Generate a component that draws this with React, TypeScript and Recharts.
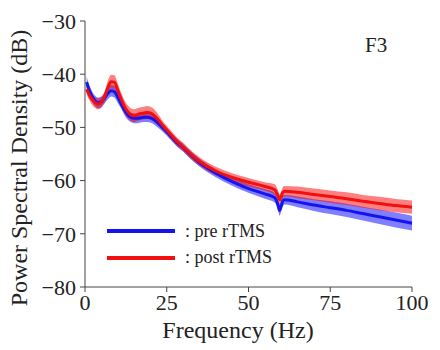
import { ComposedChart, Line, Area, XAxis, YAxis, Label } from 'recharts';

// ─── Data ────────────────────────────────────────────────────────────────────
const freqs = [0.5, 1, 2, 3, 4, 5, 6, 7, 8, 9, 10, 11, 12, 13, 14, 15, 16, 17, 18, 19, 20, 21, 22, 24, 26, 28, 30, 32, 35, 40, 45, 50, 55, 58, 59, 59.5, 60, 60.5, 61, 65, 70, 75, 80, 85, 90, 95, 100];

const preMean = [-41.5, -42.5, -44.0, -45.0, -45.4, -45.2, -44.5, -43.6, -43.1, -43.3, -44.3, -45.5, -46.7, -47.6, -48.1, -48.3, -48.3, -48.2, -48.1, -48.1, -48.2, -48.5, -49.0, -50.2, -51.5, -52.8, -53.8, -55.0, -56.6, -58.6, -60.2, -61.5, -62.5, -63.2, -64.5, -65.6, -64.8, -63.8, -63.6, -64.0, -64.6, -65.1, -65.6, -66.2, -66.8, -67.4, -68.0];
const preSd = [1.0, 1.0, 1.0, 1.0, 1.0, 1.0, 1.0, 1.1, 1.1, 1.1, 1.1, 0.9, 0.9, 0.9, 0.9, 0.9, 0.9, 0.9, 0.9, 0.9, 0.9, 0.9, 0.9, 0.75, 0.75, 0.75, 0.75, 0.75, 0.75, 0.75, 0.75, 0.8, 0.9, 0.9, 1.0, 1.0, 1.0, 1.0, 0.9, 1.0, 1.1, 1.2, 1.25, 1.3, 1.35, 1.4, 1.4];

const postMean = [-42.8, -43.5, -44.6, -45.3, -45.6, -45.3, -44.2, -42.5, -41.4, -41.5, -43.0, -44.6, -46.0, -47.0, -47.6, -47.8, -47.6, -47.4, -47.3, -47.2, -47.3, -47.7, -48.3, -49.8, -51.2, -52.6, -53.7, -54.9, -56.4, -58.2, -59.4, -60.3, -61.1, -61.7, -62.8, -63.6, -63.0, -62.2, -62.0, -62.2, -62.6, -63.0, -63.4, -63.9, -64.3, -64.7, -65.0];
const postSd = [1.0, 1.0, 1.0, 1.0, 1.0, 1.0, 1.0, 1.3, 1.3, 1.3, 1.3, 1.2, 1.2, 1.2, 1.2, 1.2, 1.2, 1.2, 1.2, 1.2, 1.2, 1.2, 1.1, 0.8, 0.8, 0.8, 0.8, 0.8, 0.8, 0.8, 0.8, 0.8, 0.8, 1.0, 1.0, 1.0, 1.0, 1.0, 1.0, 1.1, 1.1, 1.15, 1.2, 1.2, 1.25, 1.25, 1.25];

const xTicks = [0, 25, 50, 75, 100];
const yTicks = [-80, -70, -60, -50, -40, -30];
const seriesNames = [': pre rTMS', ': post rTMS'];

const data = freqs.map((f, i) => ({
  f,
  pre: preMean[i],
  preBand: [preMean[i] - preSd[i], preMean[i] + preSd[i]],
  post: postMean[i],
  postBand: [postMean[i] - postSd[i], postMean[i] + postSd[i]],
}));

const FONT = 'Liberation Serif';
const AXIS = '#444';
const BLUE = '#1414f0';
const RED = '#f01010';
const fmt = (v: number) => String(v).replace('-', '\u2212');
const tick = { fill: '#222', fontSize: 22, fontFamily: FONT };

export default function App() {
  return (
    <div style={{ position: 'absolute', left: 0, top: 0, width: 440, height: 350, background: '#fff', fontFamily: FONT }}>
      <ComposedChart width={440} height={350} data={data} margin={{ top: 21, right: 28, left: 0, bottom: 0 }}>
        <XAxis
          dataKey="f"
          type="number"
          domain={[0, 100]}
          ticks={xTicks}
          height={63}
          stroke={AXIS}
          tickSize={5}
          tickMargin={2}
          tick={tick}
        >
          <Label
            content={() => (
              <text x={238} y={338} textAnchor="middle" fontSize={24} fill="#222" fontFamily={FONT}>
                Frequency (Hz)
              </text>
            )}
          />
        </XAxis>
        <XAxis xAxisId="top" orientation="top" dataKey="f" type="number" domain={[0, 100]} height={0} stroke={AXIS} tick={false} tickLine={false} />
        <YAxis
          type="number"
          domain={[-80, -30]}
          ticks={yTicks}
          width={85}
          stroke={AXIS}
          tickSize={5}
          tickMargin={4}
          tick={tick}
          tickFormatter={fmt}
        >
          <Label
            content={() => (
              <text x={27} y={168} transform="rotate(-90 27 168)" textAnchor="middle" fontSize={24} fill="#222" fontFamily={FONT}>
                Power Spectral Density (dB)
              </text>
            )}
          />
        </YAxis>
        <YAxis yAxisId="right" orientation="right" type="number" domain={[-80, -30]} width={0} stroke={AXIS} tick={false} tickLine={false} />

        <Area dataKey="preBand" type="monotone" stroke="none" fill="#0000ff" fillOpacity={0.5} isAnimationActive={false} />
        <Line dataKey="pre" type="monotone" stroke={BLUE} strokeWidth={3} dot={false} isAnimationActive={false} />
        <Area dataKey="postBand" type="monotone" stroke="none" fill="#ff0000" fillOpacity={0.5} isAnimationActive={false} />
        <Line dataKey="post" type="monotone" stroke={RED} strokeWidth={3} dot={false} isAnimationActive={false} />
      </ComposedChart>

      <div style={{ position: 'absolute', left: 365, top: 33, fontSize: 21, color: '#222' }}>F3</div>

      {seriesNames.map((name, i) => (
        <div
          key={name}
          style={{ position: 'absolute', left: 107, top: 219 + i * 26.5, height: 24, display: 'flex', alignItems: 'center', fontSize: 18, color: '#222' }}
        >
          <span style={{ display: 'inline-block', width: 68, height: 4, background: i === 0 ? BLUE : RED, marginRight: 10 }} />
          {name}
        </div>
      ))}
    </div>
  );
}
